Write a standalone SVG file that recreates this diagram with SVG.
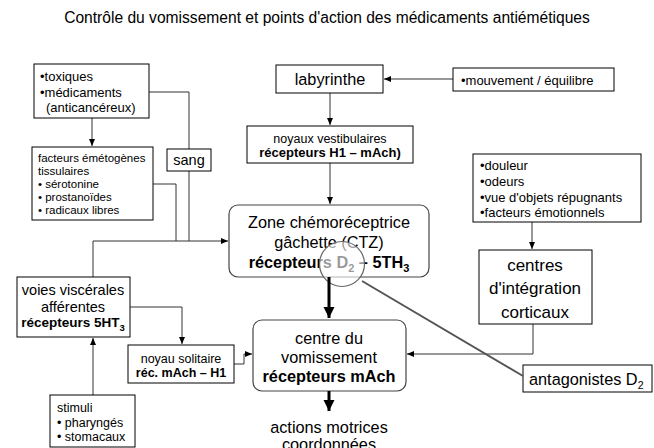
<svg xmlns="http://www.w3.org/2000/svg" width="654" height="448" viewBox="0 0 654 448">
  <style>
    text { font-family: "Liberation Sans", Arial, sans-serif; fill: #000; }
    .title { font-size: 15.6px; }
    .box { fill: #fff; stroke: #000; stroke-width: 1; }
    .rbox { fill: #fff; stroke: #444; stroke-width: 1.2; }
    .s11 { font-size: 11.5px; }
    .s12 { font-size: 12.5px; }
    .s13 { font-size: 13px; }
    .s14 { font-size: 14.5px; }
    .s16 { font-size: 16.3px; }
    .s17 { font-size: 17px; }
    .b { font-weight: bold; }
    .mid { text-anchor: middle; }
    .ln { fill: none; stroke: #333; stroke-width: 1; }
    .thick { fill: none; stroke: #000; stroke-width: 3; }
  </style>
  <defs>
    <marker id="ah" markerUnits="userSpaceOnUse" markerWidth="8" markerHeight="8" viewBox="0 0 8 8" refX="7" refY="4" orient="auto">
      <path d="M0,1 L7,4 L0,7 Z" fill="#000"/>
    </marker>
    <marker id="ahBig" markerUnits="userSpaceOnUse" markerWidth="12" markerHeight="12" viewBox="0 0 12 12" refX="11" refY="6" orient="auto">
      <path d="M0,0.5 L11,6 L0,11.5 Z" fill="#000"/>
    </marker>
  </defs>

  <rect width="654" height="448" fill="#fff"/>

  <text class="title mid" x="327" y="23">Contrôle du vomissement et points d'action des médicaments antiémétiques</text>

  <!-- connectors -->
  <g id="connectors">
    <path class="ln" d="M92,118 V146" marker-end="url(#ah)"/>
    <path class="ln" d="M149,92 H189 V149"/>
    <path class="ln" d="M189,171 V241"/>
    <path class="ln" d="M153,184 H176 V241"/>
    <path class="ln" d="M93,277 V241 H228" marker-end="url(#ah)"/>
    <path class="ln" d="M453,79 H384" marker-end="url(#ah)"/>
    <path class="ln" d="M330,93 V125" marker-end="url(#ah)"/>
    <path class="ln" d="M330,163 V204" marker-end="url(#ah)"/>
    <path class="ln" d="M532,222 V249" marker-end="url(#ah)"/>
    <path class="ln" d="M533,324 V354 H407" marker-end="url(#ah)"/>
    <path class="ln" d="M130,307 H182 V344" marker-end="url(#ah)"/>
    <path class="ln" d="M234,364 H244 V354 H252" marker-end="url(#ah)"/>
    <path class="ln" d="M93,395 V338" marker-end="url(#ah)"/>
  </g>

  <g id="toxiques">
    <rect class="box" x="34" y="64" width="115" height="54"/>
    <text class="s13" x="40" y="81">•toxiques</text>
    <text class="s13" x="40" y="96.5">•médicaments</text>
    <text class="s13" x="46" y="112">(anticancéreux)</text>
  </g>

  <g id="sang">
    <rect class="box" x="167" y="149" width="44" height="22"/>
    <text class="s14 mid" x="189" y="165">sang</text>
  </g>

  <g id="facteurs">
    <rect class="box" x="32" y="147" width="121" height="73"/>
    <text class="s11" x="38" y="162">facteurs émétogènes</text>
    <text class="s11" x="38" y="175">tissulaires</text>
    <text class="s11" x="38" y="188">• sérotonine</text>
    <text class="s11" x="38" y="201">• prostanoïdes</text>
    <text class="s11" x="38" y="214">• radicaux libres</text>
  </g>

  <g id="labyrinthe">
    <rect class="box" x="276" y="65" width="107" height="28"/>
    <text class="s16 mid" x="330" y="85">labyrinthe</text>
  </g>

  <g id="mouvement">
    <rect class="box" x="453" y="68" width="161" height="23"/>
    <text class="s13" x="461" y="85">•mouvement / équilibre</text>
  </g>

  <g id="noyaux-vestibulaires">
    <rect class="box" x="247" y="126" width="166" height="37"/>
    <text class="s12 mid" x="330" y="142.5">noyaux vestibulaires</text>
    <text class="s13 mid b" x="330" y="157">récepteurs H1 – mAch)</text>
  </g>

  <g id="stimuli-cortex">
    <rect class="box" x="473" y="154" width="168" height="68"/>
    <text class="s13" x="480" y="169.5">•douleur</text>
    <text class="s13" x="480" y="186">•odeurs</text>
    <text class="s13" x="480" y="202">•vue d'objets répugnants</text>
    <text class="s13" x="480" y="217">•facteurs émotionnels</text>
  </g>

  <g id="centres-corticaux">
    <rect class="box" x="479" y="250" width="113" height="74"/>
    <text class="s17 mid" x="535" y="271">centres</text>
    <text class="s17 mid" x="535" y="294">d'intégration</text>
    <text class="s17 mid" x="535" y="318">corticaux</text>
  </g>

  <g id="ctz">
    <rect class="rbox" x="229" y="205" width="200" height="72" rx="9"/>
    <text class="s16 mid" x="329" y="228">Zone chémoréceptrice</text>
    <text class="s16 mid" x="329" y="248">gâchette (CTZ)</text>
    <text class="s16 mid b" x="329" y="268">récepteurs D<tspan font-size="11" dy="4">2</tspan><tspan dy="-4"> – 5TH</tspan><tspan font-size="11" dy="4">3</tspan></text>
  </g>

  <g id="voies-viscerales">
    <rect class="box" x="17" y="277" width="113" height="60"/>
    <text class="s14 mid" x="73" y="295">voies viscérales</text>
    <text class="s14 mid" x="73" y="312">afférentes</text>
    <text class="mid b" x="73" y="327" font-size="13.5">récepteurs 5HT<tspan font-size="9.5" dy="4">3</tspan></text>
  </g>

  <g id="noyau-solitaire">
    <rect class="box" x="128" y="345" width="106" height="38"/>
    <text class="s12 mid" x="181" y="362.5">noyau solitaire</text>
    <text class="s12 mid b" x="181" y="377">réc. mAch – H1</text>
  </g>

  <g id="centre-vomissement">
    <rect class="rbox" x="253" y="320" width="153" height="71" rx="9"/>
    <text class="s16 mid" x="329" y="344">centre du</text>
    <text class="s16 mid" x="329" y="363">vomissement</text>
    <text class="s16 mid b" x="329" y="382">récepteurs mAch</text>
  </g>

  <g id="stimuli">
    <rect class="box" x="50" y="395" width="85" height="52"/>
    <text class="s12" x="57" y="412">stimuli</text>
    <text class="s12" x="57" y="427">• pharyngés</text>
    <text class="s12" x="57" y="441">• stomacaux</text>
  </g>

  <g id="antagonistes">
    <rect class="box" x="523" y="365" width="129" height="27"/>
    <text class="s16" x="529" y="385">antagonistes D<tspan font-size="10.5" dy="4">2</tspan></text>
  </g>

  <!-- blocking point on the CTZ: lens circle and its pointer line -->
  <g id="lens">
    <circle cx="342" cy="264" r="22.5" fill="#fff" fill-opacity="0.6" stroke="#666" stroke-width="1.2"/>
    <line x1="362" y1="281" x2="523" y2="376" stroke="#555" stroke-width="2"/>
  </g>

  <g id="thick-arrows">
    <path class="thick" d="M329,277 V318" marker-end="url(#ahBig)"/>
    <path class="thick" d="M329,391 V411" marker-end="url(#ahBig)"/>
  </g>

  <g id="actions">
    <text class="s16 mid" x="329" y="433">actions motrices</text>
    <text class="s16 mid" x="329" y="450">coordonnées</text>
  </g>
</svg>
